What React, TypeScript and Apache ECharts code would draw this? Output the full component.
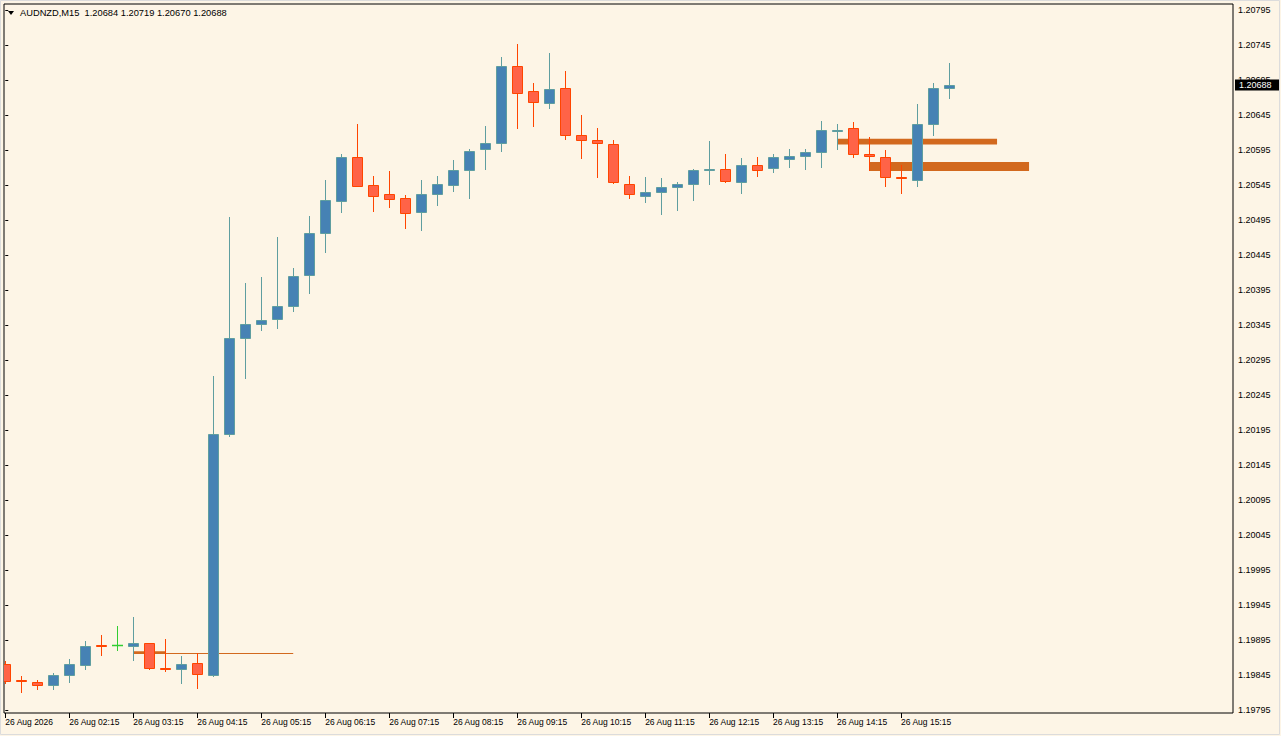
import React, { useEffect, useRef } from "react";
import * as echarts from "echarts";

const titleText = "AUDNZD,M15  1.20684 1.20719 1.20670 1.20688";

const opens = [
  1.19861, 1.19838, 1.19835, 1.1983, 1.19845, 1.19859, 1.19888, 1.19888, 1.19886, 1.1989,
  1.19855, 1.19854, 1.19862, 1.19845, 1.20189, 1.20327, 1.20347, 1.20353, 1.20372, 1.20417,
  1.20477, 1.20522, 1.20585, 1.20545, 1.20532, 1.20526, 1.20506, 1.20532, 1.20545, 1.20567,
  1.20596, 1.20605, 1.20715, 1.20679, 1.20662, 1.20683, 1.20617, 1.2061, 1.20603, 1.20547,
  1.2053, 1.20535, 1.20542, 1.20547, 1.20567, 1.20568, 1.2055, 1.20573, 1.20569, 1.20582,
  1.20586, 1.20592, 1.20623, 1.20626, 1.2059, 1.20585, 1.20556, 1.20552, 1.20632, 1.20684,
];
const closes = [
  1.19836, 1.19837, 1.1983, 1.19845, 1.1986, 1.19886, 1.19887, 1.19888, 1.1989, 1.19855,
  1.19853, 1.1986, 1.19847, 1.20189, 1.20326, 1.20347, 1.20352, 1.20372, 1.20415, 1.20476,
  1.20524, 1.20585, 1.20544, 1.2053, 1.20525, 1.20505, 1.20532, 1.20546, 1.20567, 1.20593,
  1.20605, 1.20715, 1.20677, 1.20663, 1.20682, 1.20617, 1.2061, 1.20605, 1.20549, 1.20532,
  1.20535, 1.20542, 1.20547, 1.20567, 1.20568, 1.20551, 1.20573, 1.20567, 1.20585, 1.20586,
  1.20592, 1.20623, 1.20624, 1.2059, 1.20587, 1.20556, 1.20555, 1.20632, 1.20683, 1.20688,
];
const lows = [
  1.19834, 1.1982, 1.19825, 1.19825, 1.19835, 1.19854, 1.19873, 1.19881, 1.19867, 1.19853,
  1.1985, 1.19834, 1.19827, 1.19844, 1.20187, 1.2027, 1.20338, 1.20341, 1.20365, 1.20391,
  1.2045, 1.20507, 1.20543, 1.20508, 1.20514, 1.20484, 1.20481, 1.20517, 1.20537, 1.20527,
  1.20568, 1.20594, 1.20627, 1.2063, 1.20655, 1.20611, 1.20584, 1.20557, 1.20548, 1.20527,
  1.20521, 1.20504, 1.2051, 1.20523, 1.20547, 1.20549, 1.20534, 1.20558, 1.20564, 1.20571,
  1.20568, 1.20571, 1.20597, 1.20585, 1.20566, 1.20544, 1.20534, 1.20544, 1.20617, 1.2067,
];
const highs = [
  1.19865, 1.19844, 1.19838, 1.19848, 1.19868, 1.19893, 1.19902, 1.19915, 1.19928, 1.19891,
  1.19897, 1.19872, 1.19877, 1.20272, 1.20499, 1.20405, 1.20414, 1.20471, 1.20426, 1.20501,
  1.20552, 1.20589, 1.20632, 1.20558, 1.20565, 1.20531, 1.20552, 1.20558, 1.20581, 1.20596,
  1.20629, 1.20728, 1.20746, 1.20691, 1.20734, 1.20708, 1.20645, 1.20626, 1.20609, 1.20558,
  1.20556, 1.20555, 1.20549, 1.20568, 1.20608, 1.2059, 1.20584, 1.20585, 1.2059, 1.20596,
  1.20596, 1.20636, 1.20632, 1.20635, 1.20614, 1.20595, 1.20574, 1.20661, 1.20691, 1.20719,
];

const xTickIndex = [0, 4, 8, 12, 16, 20, 24, 28, 32, 36, 40, 44, 48, 52, 56];
const xTickLabels = [
  "26 Aug 2026", "26 Aug 02:15", "26 Aug 03:15", "26 Aug 04:15", "26 Aug 05:15",
  "26 Aug 06:15", "26 Aug 07:15", "26 Aug 08:15", "26 Aug 09:15", "26 Aug 10:15",
  "26 Aug 11:15", "26 Aug 12:15", "26 Aug 13:15", "26 Aug 14:15", "26 Aug 15:15",
];
const yTickValues = [
  1.19795, 1.19845, 1.19895, 1.19945, 1.19995, 1.20045, 1.20095, 1.20145, 1.20195, 1.20245,
  1.20295, 1.20345, 1.20395, 1.20445, 1.20495, 1.20545, 1.20595, 1.20645, 1.20695, 1.20745, 1.20795,
];

// supply/demand zones (bar index range and price range)
const zoneStart = [8, 52, 54];
const zoneEnd = [10, 62, 64];
const zoneTop = [1.19879, 1.20611, 1.20578];
const zoneBottom = [1.19876, 1.20603, 1.20565];
// thin horizontal level
const levelStart = [8];
const levelEnd = [18];
const levelPrice = [1.19877];

const BG = "#FDF5E6";
const BULL_FILL = "#4682B4";
const BULL_LINE = "#5F9EA0";
const BEAR_FILL = "#FF6347";
const BEAR_LINE = "#FF4500";
const DOJI = "#32CD32";
const ZONE = "#D2691E";
const FONT = '"Liberation Sans", Arial, sans-serif';

export default function App() {
  const ref = useRef<HTMLDivElement>(null);
  useEffect(() => {
    document.body.style.margin = "0";
    const chart = echarts.init(ref.current!, null, { renderer: "svg" });
    const candleData = opens.map((o, i) => [i, o, closes[i], lows[i], highs[i]]);
    const zoneData = zoneStart.map((s, i) => [s, zoneEnd[i], zoneTop[i], zoneBottom[i]]);
    const levelData = levelStart.map((s, i) => [s, levelEnd[i], levelPrice[i]]);

    chart.setOption({
      animation: false,
      backgroundColor: BG,
      grid: {
        left: 4,
        top: 4,
        right: 48,
        bottom: 23,
        show: true,
        borderColor: "#000",
        borderWidth: 1,
        backgroundColor: BG,
        containLabel: false,
      },
      xAxis: {
        type: "value",
        min: -0.081,
        max: 76.75,
        axisLine: { show: false },
        splitLine: { show: false },
        axisTick: {
          show: true,
          customValues: xTickIndex,
          length: 5,
          inside: false,
          lineStyle: { color: "#000", width: 1 },
        },
        axisLabel: {
          customValues: xTickIndex,
          formatter: (v: number) => {
            const k = xTickIndex.indexOf(Math.round(v));
            return k >= 0 ? xTickLabels[k] : "";
          },
          align: "left",
          margin: 4,
          color: "#000",
          fontFamily: FONT,
          fontSize: 8.5,
          hideOverlap: false,
        },
      },
      yAxis: {
        type: "value",
        position: "right",
        min: 1.197907,
        max: 1.208036,
        scale: true,
        axisLine: { show: false },
        splitLine: { show: false },
        axisTick: {
          show: true,
          customValues: yTickValues,
          length: 3,
          inside: false,
          lineStyle: { color: "#000", width: 1 },
        },
        axisLabel: {
          customValues: yTickValues,
          formatter: (v: number) => v.toFixed(5),
          margin: 5,
          color: "#000",
          fontFamily: FONT,
          fontSize: 9,
          hideOverlap: false,
        },
      },
      series: [
        {
          type: "custom",
          name: "zones",
          z: 1,
          clip: true,
          data: zoneData,
          encode: { x: [0, 1], y: [2, 3] },
          renderItem: (params: any, api: any) => {
            const p1 = api.coord([api.value(0), api.value(2)]);
            const p2 = api.coord([api.value(1), api.value(3)]);
            return {
              type: "rect",
              shape: { x: p1[0], y: p1[1], width: p2[0] - p1[0], height: p2[1] - p1[1] },
              style: { fill: ZONE },
            };
          },
        },
        {
          type: "custom",
          name: "level",
          z: 1,
          clip: true,
          data: levelData,
          encode: { x: [0, 1], y: [2] },
          renderItem: (params: any, api: any) => {
            const p1 = api.coord([api.value(0), api.value(2)]);
            const p2 = api.coord([api.value(1), api.value(2)]);
            const y = Math.round(p1[1]) + 0.5;
            return {
              type: "line",
              shape: { x1: p1[0], y1: y, x2: p2[0], y2: y },
              style: { stroke: ZONE, lineWidth: 1 },
            };
          },
        },
        {
          type: "custom",
          name: "AUDNZD",
          z: 2,
          clip: true,
          data: candleData,
          encode: { x: 0, y: [1, 2, 3, 4] },
          renderItem: (params: any, api: any) => {
            const i = api.value(0);
            const o = api.value(1);
            const c = api.value(2);
            const l = api.value(3);
            const h = api.value(4);
            const po = api.coord([i, o]);
            const cx = Math.round(po[0]);
            const yo = po[1];
            const yc = api.coord([i, c])[1];
            const yl = api.coord([i, l])[1];
            const yh = api.coord([i, h])[1];
            const doji = o === c;
            const bull = c > o;
            const line = doji ? DOJI : bull ? BULL_LINE : BEAR_LINE;
            const fill = bull ? BULL_FILL : BEAR_FILL;
            const children: any[] = [
              {
                type: "line",
                shape: { x1: cx + 0.5, y1: Math.round(yh), x2: cx + 0.5, y2: Math.round(yl) + 1 },
                style: { stroke: line, lineWidth: 1 },
              },
            ];
            if (doji) {
              const y = Math.round(yo) + 0.5;
              children.push({
                type: "line",
                shape: { x1: cx - 5, y1: y, x2: cx + 6, y2: y },
                style: { stroke: line, lineWidth: 1.5 },
              });
            } else {
              const top = Math.round(Math.min(yo, yc)) + 0.5;
              const bot = Math.round(Math.max(yo, yc)) + 0.5;
              children.push({
                type: "rect",
                shape: { x: cx - 4.5, y: top, width: 10, height: Math.max(bot - top, 1) },
                style: { fill, stroke: line, lineWidth: 1 },
              });
            }
            return { type: "group", children };
          },
        },
      ],
    });

    const last = closes[closes.length - 1];
    const py = chart.convertToPixel({ yAxisIndex: 0 }, last) as number;
    chart.setOption({
      graphic: [
        {
          type: "rect",
          silent: true,
          z: 0,
          shape: { x: 0.5, y: 0.5, width: 1279, height: 734 },
          style: { fill: "none", stroke: "#DCDCDC", lineWidth: 1 },
        },
        {
          type: "polygon",
          silent: true,
          shape: { points: [[8, 11], [14, 11], [11, 15]] },
          style: { fill: "#000" },
        },
        {
          type: "text",
          silent: true,
          x: 20,
          y: 13,
          style: {
            text: titleText,
            fill: "#000",
            font: `9.3px ${FONT}`,
            verticalAlign: "middle",
            align: "left",
          },
        },
        {
          type: "rect",
          silent: true,
          z: 10,
          shape: { x: 1235, y: Math.round(py) - 5.5, width: 44, height: 11 },
          style: { fill: "#000" },
        },
        {
          type: "text",
          silent: true,
          z: 11,
          x: 1239,
          y: Math.round(py),
          style: {
            text: last.toFixed(5),
            fill: "#fff",
            font: `9px ${FONT}`,
            verticalAlign: "middle",
            align: "left",
          },
        },
      ],
    });

    return () => chart.dispose();
  }, []);
  return <div ref={ref} style={{ width: 1281, height: 736 }} />;
}
